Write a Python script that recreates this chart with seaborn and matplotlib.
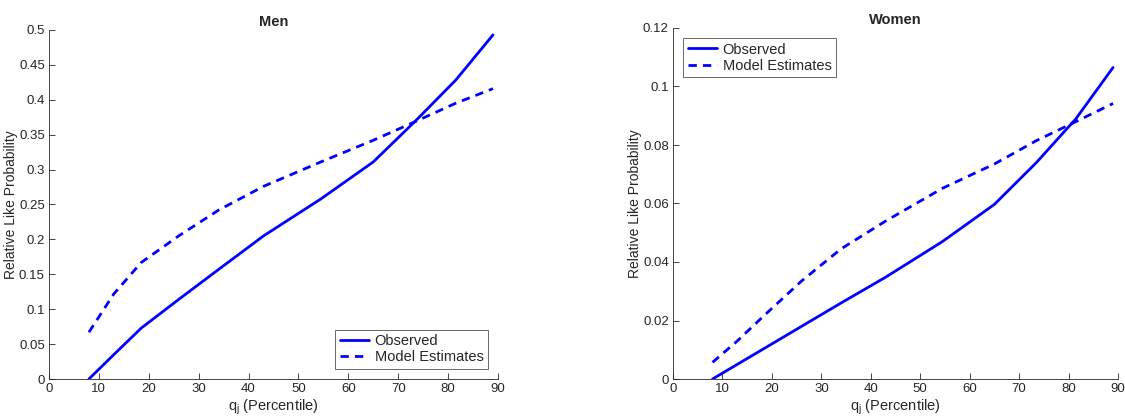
import matplotlib
matplotlib.use("Agg")
import matplotlib.pyplot as plt
import seaborn as sns
import pandas as pd

# percentile grid (x)
percentile = [8, 13, 18.5, 26, 34, 43, 54.5, 65, 73.5, 81.5, 89]

# Men
men_observed = [0.0, 0.035, 0.073, 0.114, 0.157, 0.205, 0.258, 0.311, 0.370, 0.428, 0.493]
men_model = [0.067, 0.122, 0.167, 0.205, 0.242, 0.276, 0.311, 0.342, 0.369, 0.395, 0.416]

# Women
women_observed = [0.0, 0.005, 0.0105, 0.018, 0.026, 0.0348, 0.047, 0.0597, 0.074, 0.089, 0.1065]
women_model = [0.0057, 0.013, 0.0218, 0.0335, 0.0445, 0.054, 0.0652, 0.0735, 0.0815, 0.088, 0.0942]

sns.set_style("ticks")
plt.rcParams['font.family'] = ['Liberation Sans', 'DejaVu Sans']
plt.rcParams['mathtext.fontset'] = 'custom'
plt.rcParams['mathtext.rm'] = 'Liberation Sans'
plt.rcParams['mathtext.it'] = 'Liberation Sans'

fig = plt.figure(figsize=(11.25, 4.19), dpi=100)
ax1 = fig.add_axes([49 / 1125, 40 / 419, 449 / 1125, 349 / 419])
ax2 = fig.add_axes([673 / 1125, 40 / 419, 445 / 1125, 351 / 419])


def draw_panel(ax, observed, model, title, ylim, yticks, ytlabels, legend_loc):
    df = pd.DataFrame({
        'q': percentile * 2,
        'p': observed + model,
        'series': ['Observed'] * len(percentile) + ['Model Estimates'] * len(percentile),
    })
    sns.lineplot(data=df, x='q', y='p', style='series', ax=ax,
                 color='#0000ff', linewidth=2,
                 dashes={'Observed': '', 'Model Estimates': (3, 2.2)})
    ax.set_xlim(0, 90)
    ax.set_ylim(*ylim)
    ax.set_xticks(range(0, 91, 10))
    ax.set_yticks(yticks)
    ax.set_yticklabels(ytlabels)
    ax.tick_params(direction='in', length=4, width=0.6, labelsize=9.5,
                   colors='#262626', labelcolor='#262626', pad=3)
    for s in ['top', 'right']:
        ax.spines[s].set_visible(False)
    for s in ['left', 'bottom']:
        ax.spines[s].set_color('#262626')
        ax.spines[s].set_linewidth(0.6)
    ax.set_title(title, fontsize=10.5, fontweight='bold', pad=3)
    ax.set_xlabel('$q_j$ (Percentile)', fontsize=10.5, color='#262626', labelpad=2)
    ax.set_ylabel('Relative Like Probability', fontsize=10, color='#262626', labelpad=1)
    leg = ax.legend(loc=legend_loc, fontsize=10.5, frameon=True, fancybox=False,
                    handlelength=2.0, handletextpad=0.4, borderpad=0.3,
                    labelspacing=0.15, borderaxespad=0.7)
    leg.get_frame().set_edgecolor('#262626')
    leg.get_frame().set_linewidth(0.6)
    leg.set_title(None)


draw_panel(ax1, men_observed, men_model, 'Men', (0, 0.5),
           [0, 0.05, 0.1, 0.15, 0.2, 0.25, 0.3, 0.35, 0.4, 0.45, 0.5],
           ['0', '0.05', '0.1', '0.15', '0.2', '0.25', '0.3', '0.35', '0.4', '0.45', '0.5'],
           'lower right')
draw_panel(ax2, women_observed, women_model, 'Women', (0, 0.12),
           [0, 0.02, 0.04, 0.06, 0.08, 0.1, 0.12],
           ['0', '0.02', '0.04', '0.06', '0.08', '0.1', '0.12'],
           'upper left')

fig.savefig('out.png', dpi=100)
